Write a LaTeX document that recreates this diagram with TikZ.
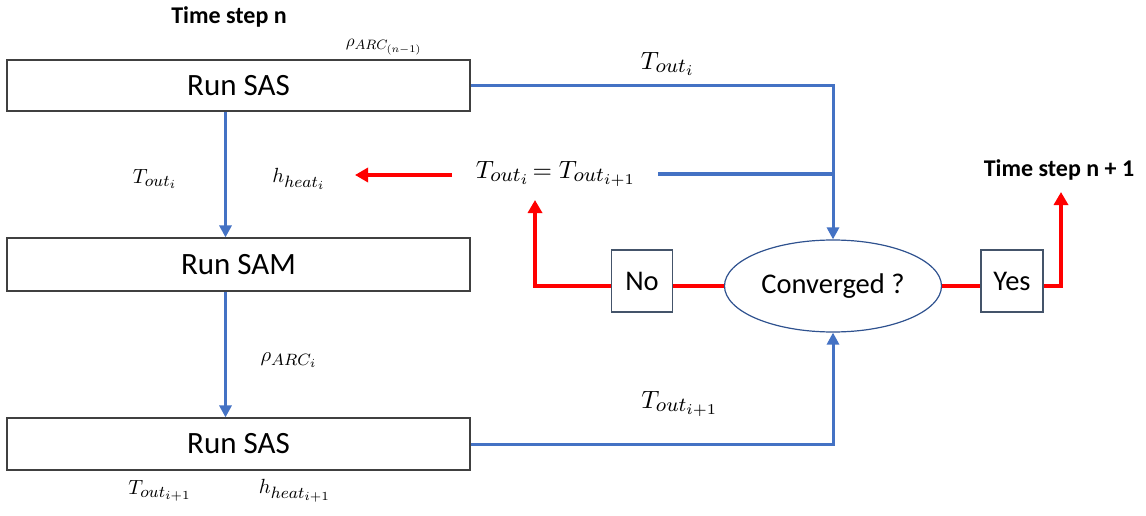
\documentclass[tikz,border=0pt]{standalone}
\usepackage{amsmath}
\usepackage{graphicx}
\usepackage[no-math]{fontspec}
\setmainfont{Carlito}
\DeclareMathSizes{10}{10}{8}{6}
\usetikzlibrary{arrows.meta,shapes.geometric}
\definecolor{fblue}{HTML}{4472C4}
\definecolor{fred}{HTML}{FF0000}
\definecolor{slate}{HTML}{44546A}
\definecolor{ellb}{HTML}{2F528F}
\newcommand{\mlarge}[1]{\scalebox{2.5}{$#1$}}
\newcommand{\mmid}[1]{\scalebox{2.05}{$#1$}}
\newcommand{\msmall}[1]{\scalebox{1.7}{$#1$}}
\tikzset{
  runbox/.style={draw=black!75, line width=1.2pt, minimum width=463pt, minimum height=51pt, inner sep=0pt, font=\fontsize{31}{36}\selectfont},
  decbox/.style={draw=slate, line width=1.2pt, minimum width=61pt, minimum height=62pt, inner sep=0pt, font=\fontsize{28.5}{32}\selectfont},
  decell/.style={ellipse, draw=ellb, line width=1.2pt, minimum width=217pt, minimum height=92pt, inner sep=0pt, font=\fontsize{28.5}{32}\selectfont},
  blueline/.style={draw=fblue, line width=3pt},
  redline/.style={draw=fred, line width=3.8pt},
  bluearrow/.style={blueline, -{Triangle[length=12pt,width=12pt]}},
  redarrow/.style={redline, -{Triangle[length=13pt,width=14pt]}},
  lab/.style={inner sep=0pt},
  title/.style={inner sep=0pt, font=\fontsize{24}{28}\selectfont\bfseries}
}
\begin{document}
\begin{tikzpicture}[x=1pt,y=-1pt]
\useasboundingbox (0,0) rectangle (1146,516);
% boxes
\node[runbox] (sas1) at (238.5,85.5) {Run SAS};
\node[runbox, minimum height=53pt] (sam) at (238.5,264.5) {Run SAM};
\node[runbox, minimum height=52pt] (sas2) at (238.5,444) {Run SAS};
\node[decell] (conv) at (833,286) {Converged ?};
\node[decbox] (no) at (642,281) {No};
\node[decbox, minimum width=62pt] (yes) at (1012,281) {Yes};
% titles
\node[title] (ts0) at (229,17) {Time step n};
\node[title] (ts1) at (1059,170) {Time step n + 1};
% labels
\node[lab] (rhon) at (384,47) {\msmall{\rho_{ARC_{(n-1)}}}};
\node[lab] (toutTop) at (668,64) {\mlarge{T_{out_i}}};
\node[lab] (eq) at (556,174) {\mlarge{T_{out_i}\!=T_{out_{i+1}}}};
\node[lab] (toutL) at (155,179) {\mmid{T_{out_i}}};
\node[lab] (hheat) at (299,179) {\mmid{h_{heat_i}}};
\node[lab] (rhoi) at (289,360) {\mmid{\rho_{ARC_i}}};
\node[lab] (toutB) at (680,404) {\mlarge{T_{out_{i+1}}}};
\node[lab] (toutB2) at (160,491) {\mmid{T_{out_{i+1}}}};
\node[lab] (hheatB) at (295,491) {\mmid{h_{heat_{i+1}}}};
% coordinates
\coordinate (noup) at (535,200);
\coordinate (yesup) at (1061,192);
\coordinate (redin) at (452,175);
\coordinate (redout) at (355,175);
% blue connectors
\draw[bluearrow] ([xshift=-13pt]sas1.south) -- ([xshift=-13pt]sam.north);
\draw[bluearrow] ([xshift=-13pt]sam.south) -- ([xshift=-13pt]sas2.north);
\draw[bluearrow] (sas1.east) -| (conv.north);
\draw[bluearrow] (sas2.east) -| (conv.south);
\draw[blueline] (eq.east -| 658,0) -- (eq.east -| conv.north);
% red connectors
\draw[redarrow] (redin) -- (redout);
\draw[redarrow] (conv.west -| no.west) -| (noup);
\draw[redline] (conv.west -| no.east) -- (conv.west);
\draw[redline] (conv.east) -- (conv.east -| yes.west);
\draw[redarrow] (conv.east -| yes.east) -| (yesup);
\end{tikzpicture}
\end{document}
